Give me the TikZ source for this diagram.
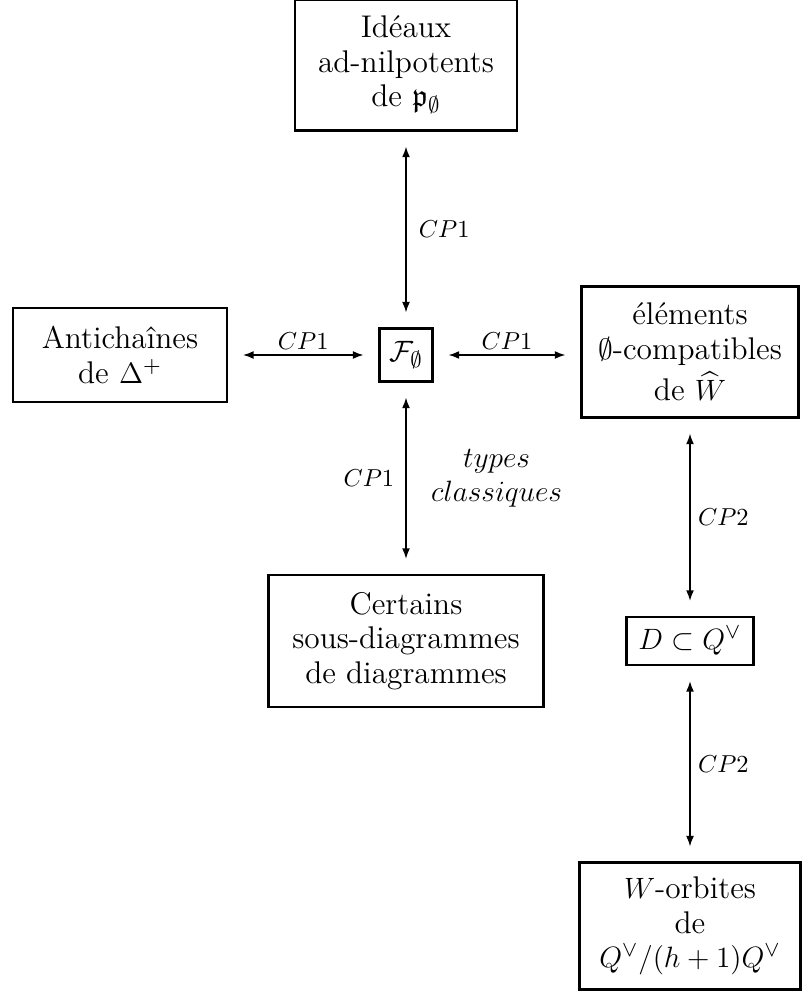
\documentclass[tikz,border=0pt]{standalone}
\usepackage{fontspec}
\usepackage{amssymb}
\usetikzlibrary{arrows.meta}
\begin{document}
\begin{tikzpicture}[x=0.40816pt,y=-0.40816pt,
  box/.style={draw, line width=1.1pt, align=center, font=\fontsize{12.8}{14}\selectfont, inner sep=0pt},
  link/.style={{Latex[length=4.3pt,width=3.2pt]}-{Latex[length=4.3pt,width=3.2pt]}, line width=0.6pt, shorten >=6pt, shorten <=6pt},
  lab/.style={font=\fontsize{10}{12}\selectfont, inner sep=1pt},
  side/.style={font=\fontsize{12.8}{14}\selectfont, inner sep=1pt, align=center}]
\useasboundingbox (0,0) rectangle (807,997);
\node[box, minimum width=90.6pt, minimum height=53.5pt] (ideaux) at (406,65) {Idéaux\\ad-nilpotents\\de $\mathfrak{p}_\emptyset$};
\node[box, minimum width=87.3pt, minimum height=38.4pt] (anti) at (120,355) {Antichaînes\\de $\Delta^+$};
\node[box, minimum width=21.6pt, minimum height=21.6pt] (F) at (406,355) {$\mathcal{F}_\emptyset$};
\node[box, minimum width=88.6pt, minimum height=53.5pt] (elem) at (690,352) {éléments\\$\emptyset$-compatibles\\[1.5pt]de $\widehat{W}$};
\node[box, minimum width=112.2pt, minimum height=53.9pt] (cert) at (406,641) {Certains\\sous-diagrammes\\de diagrammes};
\node[box, minimum width=51.8pt, minimum height=19.6pt] (D) at (690,641) {$D\subset Q^\vee$};
\node[box, minimum width=90.2pt, minimum height=51.8pt] (orb) at (690,926) {$W$-orbites\\de\\$Q^\vee/(h+1)Q^\vee$};
\draw[link] (ideaux) -- node[lab, right=4pt] (l1) {$CP1$} (F);
\draw[link] (anti) -- node[lab, above=1pt] (l2) {$CP1$} (F);
\draw[link] (F) -- node[lab, above=1pt] (l3) {$CP1$} (F -| elem.west);
\draw[link] (F) -- node[lab, left=3.5pt] (l4) {$CP1$} node[side, right=9pt] (tc) {$types$\\$classiques$} (cert);
\draw[link] (elem) -- node[lab, right=2pt] (l5) {$CP2$} (D);
\draw[link] (D) -- node[lab, right=2pt] (l6) {$CP2$} (orb);
\end{tikzpicture}
\end{document}
